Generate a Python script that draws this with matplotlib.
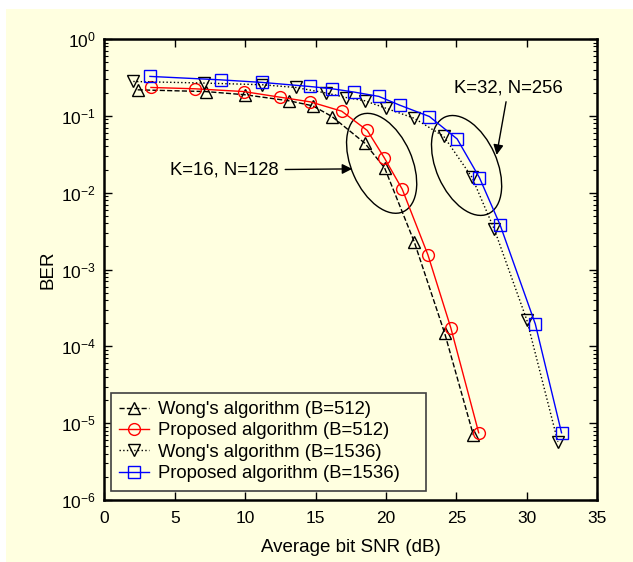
import numpy as np
import matplotlib
matplotlib.use('Agg')
import matplotlib.pyplot as plt
from matplotlib.patches import Ellipse, Rectangle
from matplotlib.transforms import ScaledTranslation
from matplotlib.ticker import LogLocator, NullFormatter

plt.rcParams['font.family'] = ['Liberation Sans', 'DejaVu Sans']
plt.rcParams['mathtext.default'] = 'regular'

# data
snr_wong_512 = [2.37, 7.19, 10.0, 13.1, 14.8, 16.16, 18.5, 19.9, 22.0, 24.17, 26.2]
ber_wong_512 = [0.218, 0.207, 0.188, 0.157, 0.135, 0.098, 0.044, 0.021, 0.0023, 1.47e-4, 7e-6]

snr_prop_512 = [3.31, 6.43, 9.9, 12.46, 14.63, 16.85, 18.67, 19.87, 21.15, 22.97, 24.6, 26.58]
ber_prop_512 = [0.234, 0.225, 0.207, 0.175, 0.152, 0.115, 0.0645, 0.0286, 0.0111, 1.56e-3, 1.74e-4, 7.5e-6]

snr_wong_1536 = [2.06, 7.07, 11.2, 13.59, 15.76, 17.18, 18.5, 19.97, 22.0, 24.1, 26.1, 27.69, 30.0, 32.2]
ber_wong_1536 = [0.28, 0.267, 0.254, 0.234, 0.198, 0.173, 0.157, 0.126, 0.093, 0.054, 0.0159, 3.33e-3, 2.19e-4, 5.7e-6]

snr_prop_1536 = [3.24, 8.25, 11.23, 14.58, 16.19, 17.72, 19.49, 20.96, 23.08, 25.05, 26.63, 28.1, 30.6, 32.46]
ber_prop_1536 = [0.326, 0.294, 0.272, 0.241, 0.225, 0.204, 0.179, 0.138, 0.098, 0.050, 0.0157, 3.8e-3, 1.95e-4, 7.5e-6]

bg = '#ffffe0'

fig = plt.figure(figsize=(6.33, 5.62), dpi=100)
fig.patch.set_facecolor('white')
fig.patches.append(Rectangle((6 / 633, -0.01), 1.02, 1.01 - 9 / 562, transform=fig.transFigure,
                             facecolor=bg, edgecolor='none', zorder=-10))

ax = fig.add_axes([104.3 / 633, 1 - 500 / 562, 493 / 633, 461 / 562])
ax.set_facecolor(bg)

ax.semilogy(snr_wong_512, ber_wong_512, 'k--^', mfc='none', ms=8.5, lw=1,
            label="Wong's algorithm (B=512)")
ax.semilogy(snr_prop_512, ber_prop_512, 'r-o', mfc='none', ms=8.5, lw=1,
            label='Proposed algorithm (B=512)')
ax.semilogy(snr_wong_1536, ber_wong_1536, 'k:v', mfc='none', ms=8.5, lw=1,
            label="Wong's algorithm (B=1536)")
ax.semilogy(snr_prop_1536, ber_prop_1536, 'b-s', mfc='none', ms=8.5, lw=1,
            label='Proposed algorithm (B=1536)')

ax.set_xlim(0, 35)
ax.set_ylim(1e-6, 1)
ax.set_xticks(np.arange(0, 36, 5))
ax.set_yticks([1e-6, 1e-5, 1e-4, 1e-3, 1e-2, 1e-1, 1])
ax.yaxis.set_minor_locator(LogLocator(base=10, subs=np.arange(2, 10), numticks=20))
ax.yaxis.set_minor_formatter(NullFormatter())
ax.tick_params(which='both', direction='in', top=True, right=True, labelsize=12.5)
ax.tick_params(axis='x', pad=8)
ax.tick_params(axis='y', pad=6)
ax.tick_params(which='major', length=6, width=1)
ax.tick_params(which='minor', length=3, width=0.8)
for s in ax.spines.values():
    s.set_linewidth(1.8)

ax.set_xlabel('Average bit SNR (dB)', fontsize=13.5, labelpad=9)
ax.set_ylabel('BER', fontsize=13.5, labelpad=3.5)

# ellipses around the curve groups (drawn in inches around a data point)
for cx, cy in [(19.69, 0.0241), (25.72, 0.0226)]:
    tr = fig.dpi_scale_trans + ScaledTranslation(cx, cy, ax.transData)
    ax.add_patch(Ellipse((0, 0), 0.606, 1.06, angle=24, transform=tr,
                         fill=False, edgecolor='k', lw=1))

ax.annotate('K=16, N=128', xy=(17.6, 0.0204), xytext=(12.35, 0.0197),
            ha='right', va='center', fontsize=13.3,
            arrowprops=dict(arrowstyle='-|>', color='k', lw=1, mutation_scale=15,
                            shrinkA=3, shrinkB=0))
ax.annotate('K=32, N=256', xy=(27.85, 0.031), xytext=(28.7, 0.232),
            ha='center', va='center', fontsize=13.3,
            arrowprops=dict(arrowstyle='-|>', color='k', lw=1, mutation_scale=15,
                            shrinkA=2, shrinkB=0))

# legend box drawn separately (it is wider than its texts, MATLAB style)
x0, x1 = (111 - 104.3) / 493, (426 - 104.3) / 493
y0, y1 = (500 - 491) / 461, (500 - 393) / 461
ax.add_patch(Rectangle((x0, y0), x1 - x0, y1 - y0, transform=ax.transAxes,
                       facecolor=bg, edgecolor='#404040', lw=1.2, zorder=4))
leg = ax.legend(loc='center left', fontsize=13.3, numpoints=1, handlelength=1.6,
                labelspacing=0.24, borderpad=0.0, handletextpad=0.5,
                borderaxespad=0, frameon=False,
                bbox_to_anchor=((119 - 104.3) / 493, (500 - 441.7) / 461))
leg.set_zorder(5)

fig.savefig('out.png', dpi=100, facecolor=fig.get_facecolor())
